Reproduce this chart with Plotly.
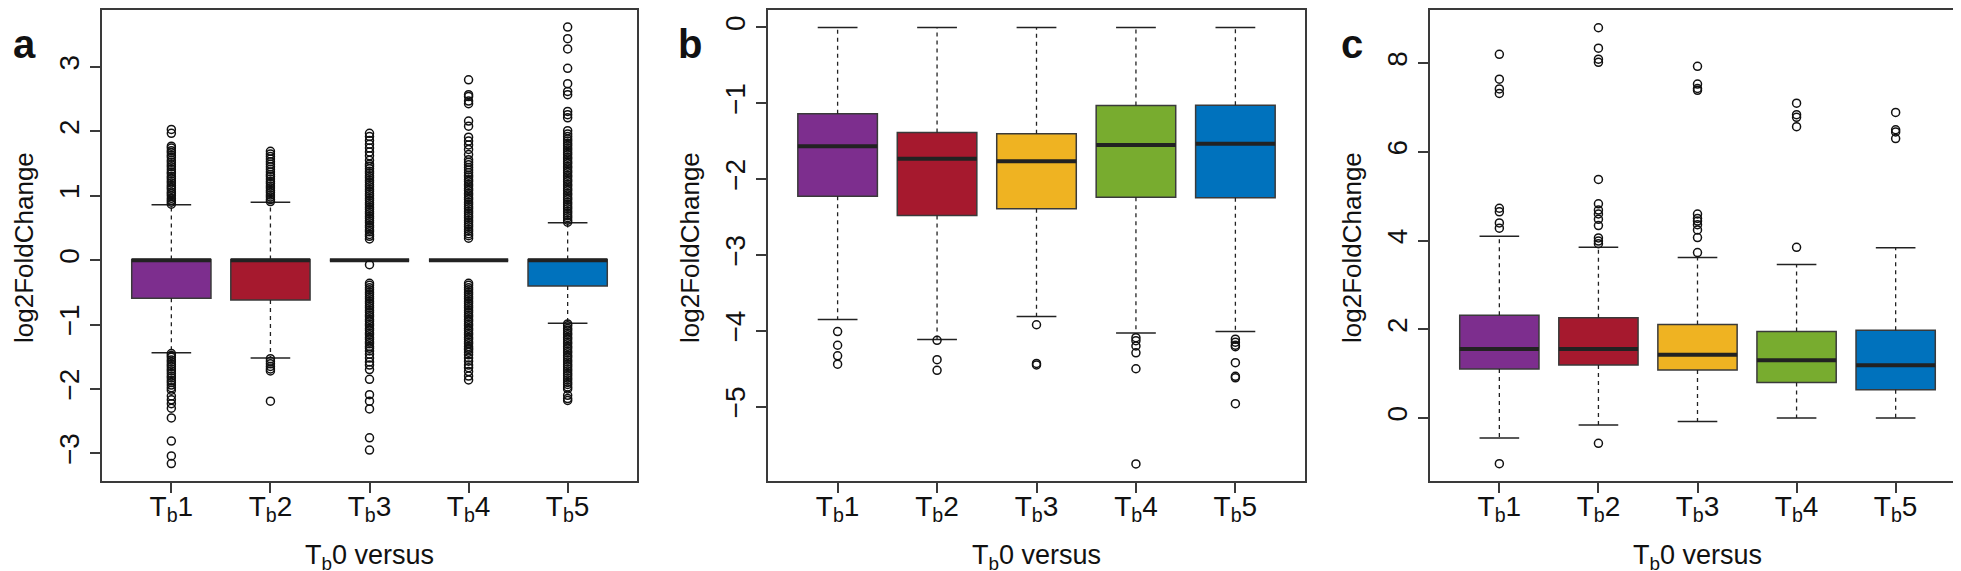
import plotly.graph_objects as go

# ---------------- data ----------------
categories = ["T<sub>b</sub>1", "T<sub>b</sub>2", "T<sub>b</sub>3", "T<sub>b</sub>4", "T<sub>b</sub>5"]
colors = ["#7D2E8E", "#A6192E", "#EFB322", "#78AC2F", "#0072BD"]

# Panel a
a_q1 = [-0.59, -0.62, 0.0, 0.0, -0.40]
a_med = [0.0, 0.0, 0.0, 0.0, 0.0]
a_q3 = [0.01, 0.01, 0.0, 0.0, 0.01]
a_lo = [-1.44, -1.52, 0.0, 0.0, -0.98]
a_hi = [0.86, 0.90, 0.0, 0.0, 0.58]
a_out = [
    [0.87, 0.90, 0.93, 0.96, 1.00, 1.03, 1.06, 1.10, 1.13, 1.16, 1.20, 1.23, 1.27, 1.30, 1.34,
     1.37, 1.41, 1.45, 1.48, 1.52, 1.55, 1.60, 1.63, 1.67, 1.70, 1.74, 1.77, 1.97, 2.03,
     -1.45, -1.48, -1.51, -1.55, -1.58, -1.62, -1.65, -1.69, -1.72, -1.76, -1.80, -1.83, -1.87,
     -1.90, -1.94, -1.98, -2.02, -2.11, -2.17, -2.23, -2.30, -2.45, -2.81, -3.04, -3.16],
    [0.91, 0.94, 0.98, 1.01, 1.05, 1.08, 1.12, 1.15, 1.19, 1.22, 1.26, 1.30, 1.33, 1.37, 1.41,
     1.45, 1.49, 1.53, 1.57, 1.61, 1.65, 1.69,
     -1.53, -1.57, -1.61, -1.65, -1.69, -1.72, -2.19],
    [0.33, 0.37, 0.40, 0.44, 0.47, 0.51, 0.54, 0.58, 0.61, 0.65, 0.68, 0.72, 0.75, 0.79, 0.82,
     0.86, 0.89, 0.93, 0.96, 1.00, 1.03, 1.07, 1.10, 1.14, 1.17, 1.21, 1.24, 1.28, 1.31, 1.35,
     1.38, 1.42, 1.46, 1.49, 1.55, 1.62, 1.68, 1.74, 1.80, 1.86, 1.92, 1.97,
     -0.07, -0.36, -0.39, -0.43, -0.46, -0.50, -0.53, -0.57, -0.60, -0.64, -0.67, -0.71, -0.74,
     -0.78, -0.81, -0.85, -0.88, -0.92, -0.95, -0.99, -1.02, -1.06, -1.09, -1.13, -1.16, -1.20,
     -1.23, -1.27, -1.30, -1.34, -1.37, -1.41, -1.46, -1.52, -1.58, -1.63, -1.70, -1.85, -2.09,
     -2.19, -2.31, -2.76, -2.95],
    [0.34, 0.38, 0.41, 0.45, 0.48, 0.52, 0.55, 0.59, 0.62, 0.66, 0.69, 0.73, 0.76, 0.80, 0.83,
     0.87, 0.90, 0.94, 0.97, 1.01, 1.04, 1.08, 1.11, 1.15, 1.18, 1.22, 1.25, 1.29, 1.32, 1.36,
     1.40, 1.44, 1.48, 1.52, 1.56, 1.64, 1.72, 1.79, 1.85, 1.91, 2.08, 2.16, 2.43, 2.47, 2.54,
     2.57, 2.80,
     -0.36, -0.39, -0.43, -0.46, -0.50, -0.53, -0.57, -0.60, -0.64, -0.67, -0.71, -0.74, -0.78,
     -0.81, -0.85, -0.88, -0.92, -0.95, -0.99, -1.02, -1.06, -1.09, -1.13, -1.16, -1.20, -1.23,
     -1.27, -1.30, -1.34, -1.37, -1.39, -1.43, -1.47, -1.52, -1.57, -1.63, -1.67, -1.73, -1.80,
     -1.86],
    [0.59, 0.62, 0.66, 0.69, 0.73, 0.76, 0.80, 0.83, 0.87, 0.90, 0.94, 0.97, 1.01, 1.04, 1.08,
     1.11, 1.15, 1.18, 1.22, 1.25, 1.29, 1.32, 1.36, 1.39, 1.43, 1.46, 1.50, 1.53, 1.57, 1.60,
     1.64, 1.67, 1.71, 1.74, 1.78, 1.81, 1.85, 1.88, 1.92, 1.96, 2.01, 2.21, 2.26, 2.31, 2.57,
     2.62, 2.74, 2.98, 3.28, 3.44, 3.62,
     -0.99, -1.02, -1.06, -1.09, -1.13, -1.16, -1.20, -1.23, -1.27, -1.30, -1.34, -1.37, -1.41,
     -1.44, -1.48, -1.51, -1.55, -1.58, -1.62, -1.65, -1.69, -1.72, -1.76, -1.79, -1.83, -1.86,
     -1.90, -1.93, -1.97, -2.00, -2.10, -2.15, -2.18],
]

# Panel b
b_q1 = [-2.225, -2.48, -2.39, -2.24, -2.245]
b_med = [-1.568, -1.731, -1.765, -1.55, -1.535]
b_q3 = [-1.137, -1.386, -1.40, -1.03, -1.026]
b_lo = [-3.85, -4.115, -3.81, -4.03, -4.01]
b_hi = [0.0, 0.0, 0.0, 0.0, 0.0]
b_out = [
    [-4.01, -4.19, -4.33, -4.44],
    [-4.125, -4.38, -4.52],
    [-3.92, -4.43, -4.45],
    [-4.09, -4.13, -4.20, -4.29, -4.50, -5.755],
    [-4.11, -4.15, -4.19, -4.21, -4.42, -4.60, -4.62, -4.96],
]

# Panel c
c_q1 = [1.107, 1.197, 1.08, 0.803, 0.64]
c_med = [1.557, 1.557, 1.426, 1.303, 1.19]
c_q3 = [2.32, 2.26, 2.107, 1.95, 1.98]
c_lo = [-0.45, -0.156, -0.08, 0.0, 0.0]
c_hi = [4.10, 3.85, 3.62, 3.46, 3.84]
c_out = [
    [8.20, 7.64, 7.42, 7.32, 4.73, 4.65, 4.40, 4.28, -1.03],
    [8.80, 8.34, 8.09, 8.02, 5.38, 4.83, 4.69, 4.60, 4.48, 4.34, 4.06, 3.99, 3.93, -0.57],
    [7.93, 7.53, 7.43, 7.39, 4.60, 4.50, 4.44, 4.36, 4.24, 4.07, 3.73],
    [7.10, 6.84, 6.78, 6.57, 3.85],
    [6.89, 6.50, 6.45, 6.30],
]

y_ranges = [[-3.43, 3.885], [-5.98, 0.23], [-1.42, 9.20]]
y_ticks = [[-3, -2, -1, 0, 1, 2, 3], [-5, -4, -3, -2, -1, 0], [0, 2, 4, 6, 8]]
panel_letters = ["a", "b", "c"]
y_title = "log2FoldChange"
x_title = "T<sub>b</sub>0 versus"

# ---------------- layout geometry (pixels) ----------------
W, H = 1961, 571
panel_px = [(94, 629), (760, 1297), (1422, 1957)]
top_px, bottom_px = 2, 473
FONT = "Liberation Sans, Arial, sans-serif"
BOXW = 0.8
CAPW = 0.4

panels = [
    (a_q1, a_med, a_q3, a_lo, a_hi, a_out),
    (b_q1, b_med, b_q3, b_lo, b_hi, b_out),
    (c_q1, c_med, c_q3, c_lo, c_hi, c_out),
]

fig = go.Figure()
pos = [1, 2, 3, 4, 5]

for k, (q1, med, q3, lo, hi, outs) in enumerate(panels):
    xa = "x" if k == 0 else f"x{k+1}"
    ya = "y" if k == 0 else f"y{k+1}"

    # dashed whiskers
    wx, wy = [], []
    for p, a, b, l, h in zip(pos, q1, q3, lo, hi):
        if h > b:
            wx += [p, p, None]
            wy += [b, h, None]
        if l < a:
            wx += [p, p, None]
            wy += [a, l, None]
    fig.add_trace(go.Scatter(x=wx, y=wy, mode="lines", xaxis=xa, yaxis=ya,
                             line=dict(color="#222222", width=1.3, dash="4px,4px"),
                             hoverinfo="skip", showlegend=False))

    # boxes
    for i, p in enumerate(pos):
        fig.add_trace(go.Box(x=[p], q1=[q1[i]], median=[med[i]], q3=[q3[i]],
                             lowerfence=[q1[i]], upperfence=[q3[i]],
                             width=BOXW, whiskerwidth=0, boxpoints=False,
                             fillcolor=colors[i], line=dict(color="#3a3a3a", width=1.5),
                             xaxis=xa, yaxis=ya, showlegend=False, hoverinfo="skip"))

    # caps
    cx, cy = [], []
    for p, a, b, l, h in zip(pos, q1, q3, lo, hi):
        if h > b:
            cx += [p - CAPW / 2, p + CAPW / 2, None]
            cy += [h, h, None]
        if l < a:
            cx += [p - CAPW / 2, p + CAPW / 2, None]
            cy += [l, l, None]
    fig.add_trace(go.Scatter(x=cx, y=cy, mode="lines", xaxis=xa, yaxis=ya,
                             line=dict(color="#222222", width=1.5),
                             hoverinfo="skip", showlegend=False))

    # medians
    mx, my = [], []
    for p, m in zip(pos, med):
        mx += [p - BOXW / 2, p + BOXW / 2, None]
        my += [m, m, None]
    fig.add_trace(go.Scatter(x=mx, y=my, mode="lines", xaxis=xa, yaxis=ya,
                             line=dict(color="#222222", width=4),
                             hoverinfo="skip", showlegend=False))

    # outliers
    ox, oy = [], []
    for p, vals in zip(pos, outs):
        ox += [p] * len(vals)
        oy += vals
    fig.add_trace(go.Scatter(x=ox, y=oy, mode="markers", xaxis=xa, yaxis=ya,
                             marker=dict(symbol="circle-open", size=8, color="#111111",
                                         line=dict(width=1.5, color="#111111")),
                             hoverinfo="skip", showlegend=False))

axis_common = dict(showline=True, mirror=True, linecolor="#3a3a3a", linewidth=1.5,
                   ticks="outside", ticklen=10, tickwidth=1.5, tickcolor="#3a3a3a",
                   showgrid=False, zeroline=False,
                   tickfont=dict(family=FONT, size=28, color="#111111"))

ydom = [1 - bottom_px / H, 1 - top_px / H]
layout = dict(width=W, height=H, margin=dict(l=0, r=0, t=0, b=0),
              paper_bgcolor="white", plot_bgcolor="white", showlegend=False)
annotations = []
for k, (x0, x1) in enumerate(panel_px):
    sx = "" if k == 0 else str(k + 1)
    layout["xaxis" + sx] = dict(domain=[x0 / W, x1 / W], range=[0.3, 5.7],
                                tickvals=pos, ticktext=categories, ticklabelstandoff=-10,
                                anchor="y" + sx, **axis_common)
    layout["yaxis" + sx] = dict(domain=ydom, range=y_ranges[k], tickvals=y_ticks[k],
                                tickangle=-90, anchor="x" + sx, **axis_common)
    # panel letter
    annotations.append(dict(text="<b>%s</b>" % panel_letters[k], x=(x0 - 78) / W, y=1 - 36 / H,
                            xref="paper", yref="paper", showarrow=False,
                            xanchor="center", yanchor="middle",
                            font=dict(family=FONT, size=40, color="#111111")))
    # y title
    annotations.append(dict(text=y_title, x=(x0 - 78) / W, y=1 - 240 / H,
                            xref="paper", yref="paper", showarrow=False, textangle=-90,
                            xanchor="center", yanchor="middle",
                            font=dict(family=FONT, size=26, color="#111111")))
    # x title
    annotations.append(dict(text=x_title, x=(x0 + x1) / 2 / W, y=1 - 549 / H,
                            xref="paper", yref="paper", showarrow=False,
                            xanchor="center", yanchor="middle",
                            font=dict(family=FONT, size=27, color="#111111")))
layout["annotations"] = annotations
fig.update_layout(**layout)

fig.write_html("out.html")
